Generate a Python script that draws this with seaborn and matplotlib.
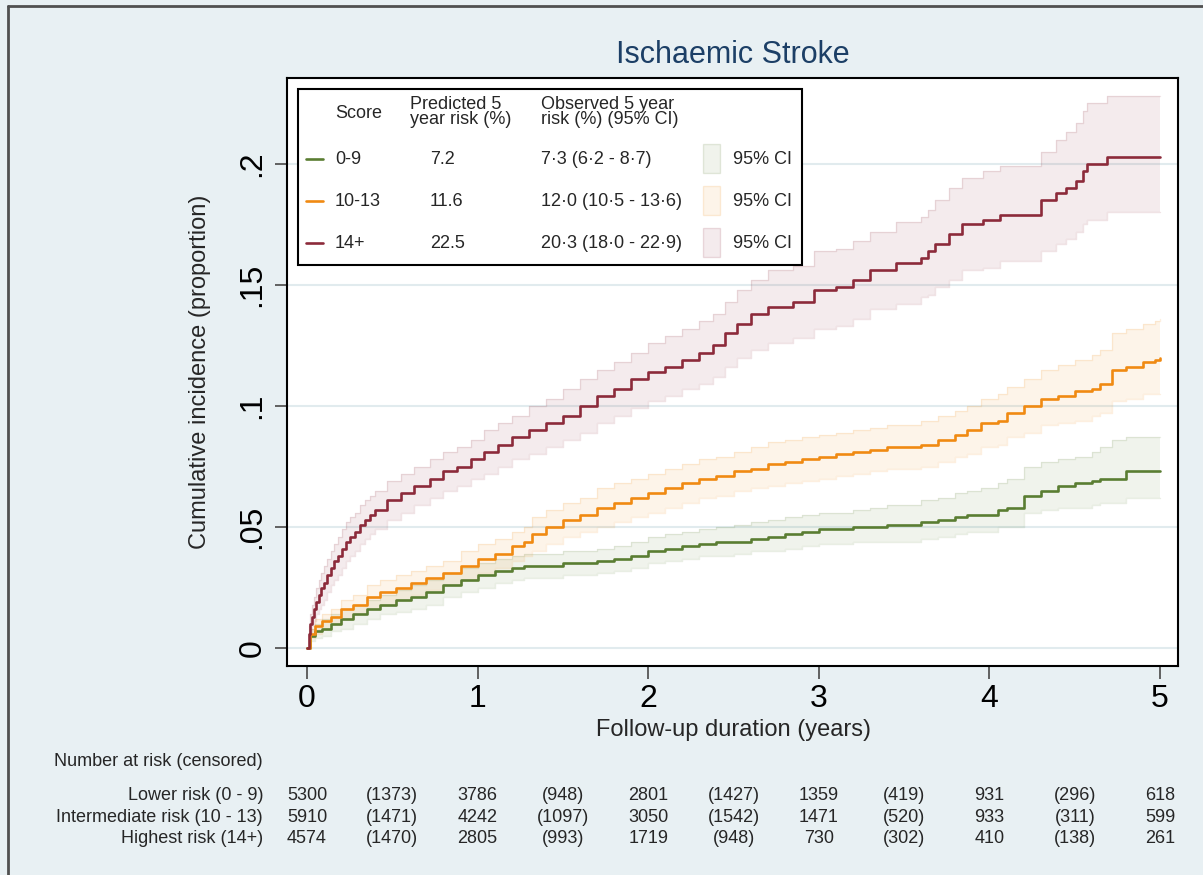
import numpy as np
import pandas as pd
import matplotlib
matplotlib.use("Agg")
import matplotlib.pyplot as plt
import matplotlib.transforms as mtransforms
from matplotlib.patches import Rectangle
from matplotlib.lines import Line2D
import seaborn as sns

# ---- data ----
groups = ["0-9", "10-13", "14+"]
predicted = ["7.2", "11.6", "22.5"]
observed = ["7·3 (6·2 - 8·7)", "12·0 (10·5 - 13·6)", "20·3 (18·0 - 22·9)"]

# low and intermediate groups share one time grid (years)
t_lowmid = [0, 0.02, 0.05, 0.09, 0.14, 0.20, 0.27, 0.35, 0.43, 0.52,
            0.61, 0.70, 0.80, 0.90, 1.00, 1.10, 1.20, 1.27, 1.32, 1.40,
            1.50, 1.60, 1.70, 1.80, 1.90, 2.00, 2.10, 2.20, 2.30, 2.40,
            2.50, 2.60, 2.70, 2.80, 2.90, 3.00, 3.10, 3.20, 3.30, 3.40,
            3.50, 3.60, 3.70, 3.80, 3.87, 3.95, 4.05, 4.10, 4.20, 4.30,
            4.40, 4.50, 4.60, 4.65, 4.72, 4.80, 4.90, 4.97, 5.00]

low_est = [0, .005, .007, .008, .010, .012, .014, .016, .018, .020,
           .021, .023, .026, .028, .030, .032, .033, .034, .034, .034,
           .035, .035, .036, .037, .038, .040, .041, .042, .043, .044,
           .044, .045, .046, .047, .048, .049, .049, .050, .050, .051,
           .051, .052, .053, .054, .055, .055, .057, .058, .063, .065,
           .067, .068, .069, .070, .070, .073, .073, .073, .073]
low_lo = [0, .003, .004, .005, .007, .008, .010, .012, .014, .015,
          .016, .018, .021, .023, .025, .027, .028, .029, .029, .029,
          .030, .030, .031, .032, .033, .035, .036, .037, .038, .038,
          .039, .040, .040, .041, .042, .043, .043, .044, .044, .044,
          .044, .045, .046, .047, .048, .048, .050, .050, .056, .057,
          .058, .058, .059, .060, .060, .062, .062, .062, .062]
low_hi = [0, .008, .010, .012, .014, .016, .018, .020, .022, .024,
          .026, .028, .031, .033, .035, .037, .038, .039, .039, .039,
          .040, .040, .041, .042, .044, .046, .047, .048, .049, .050,
          .051, .052, .053, .054, .055, .056, .056, .057, .058, .059,
          .059, .061, .062, .064, .065, .066, .068, .070, .075, .077,
          .078, .079, .081, .083, .086, .087, .087, .087, .087]

mid_est = [0, .006, .009, .011, .013, .016, .018, .021, .023, .025,
           .027, .029, .031, .034, .037, .039, .042, .044, .047, .050,
           .053, .055, .058, .060, .062, .064, .066, .068, .070, .071,
           .073, .074, .076, .077, .078, .079, .080, .081, .082, .083,
           .083, .084, .086, .088, .090, .093, .094, .097, .100, .103,
           .104, .106, .107, .109, .115, .116, .118, .119, .120]
mid_lo = [0, .004, .006, .008, .010, .012, .014, .016, .018, .020,
          .022, .024, .026, .028, .031, .033, .036, .038, .040, .043,
          .046, .048, .050, .052, .054, .056, .058, .060, .062, .063,
          .065, .066, .067, .068, .069, .070, .071, .072, .073, .074,
          .074, .075, .077, .079, .080, .083, .084, .087, .089, .092,
          .093, .094, .096, .097, .102, .103, .105, .105, .105]
mid_hi = [0, .008, .012, .014, .016, .020, .022, .026, .028, .030,
          .032, .034, .036, .040, .043, .045, .048, .050, .054, .057,
          .060, .062, .066, .068, .070, .072, .074, .076, .078, .079,
          .081, .083, .085, .086, .087, .088, .089, .090, .091, .092,
          .092, .094, .096, .098, .100, .103, .105, .108, .111, .115,
          .117, .119, .121, .123, .130, .132, .134, .135, .136]

t_high = [0, 0.01, 0.02, 0.03, 0.04, 0.055, 0.07, 0.085, 0.10, 0.12,
          0.14, 0.16, 0.18, 0.205, 0.23, 0.255, 0.28, 0.31, 0.34, 0.37,
          0.40, 0.47, 0.55, 0.63, 0.72, 0.80, 0.88, 0.96, 1.04, 1.12,
          1.20, 1.30, 1.40, 1.50, 1.60, 1.70, 1.80, 1.90, 2.00, 2.10,
          2.20, 2.30, 2.38, 2.45, 2.52, 2.60, 2.70, 2.85, 2.97, 3.10,
          3.20, 3.30, 3.45, 3.60, 3.64, 3.68, 3.76, 3.84, 3.96, 4.06,
          4.30, 4.39, 4.45, 4.51, 4.55, 4.57, 4.69, 5.00]
high_est = [0, .006, .010, .013, .016, .019, .022, .025, .027, .030,
            .033, .036, .038, .041, .044, .046, .048, .051, .053, .055,
            .057, .061, .064, .067, .070, .073, .075, .078, .081, .084,
            .087, .090, .093, .096, .100, .104, .107, .111, .114, .116,
            .119, .122, .125, .130, .134, .138, .141, .143, .148, .149,
            .152, .156, .159, .161, .164, .167, .171, .175, .177, .179,
            .185, .188, .190, .193, .197, .200, .203, .203]
high_lo = [0, .003, .006, .009, .011, .014, .016, .018, .020, .023,
           .026, .028, .030, .033, .036, .038, .040, .043, .045, .047,
           .049, .053, .056, .059, .062, .065, .067, .070, .072, .075,
           .078, .080, .083, .086, .089, .093, .096, .099, .102, .104,
           .107, .109, .112, .116, .120, .123, .126, .128, .132, .133,
           .136, .140, .142, .145, .146, .149, .152, .156, .157, .160,
           .164, .167, .169, .172, .175, .177, .180, .180]
high_hi = [0, .009, .014, .018, .021, .025, .028, .031, .034, .037,
           .040, .043, .046, .049, .052, .054, .056, .059, .061, .063,
           .065, .069, .072, .075, .078, .081, .083, .086, .090, .093,
           .096, .100, .103, .107, .111, .115, .118, .122, .126, .129,
           .132, .135, .138, .143, .148, .152, .156, .158, .164, .165,
           .168, .172, .176, .178, .181, .185, .190, .194, .197, .199,
           .205, .210, .213, .217, .222, .225, .228, .228]

# number at risk table
risk_times = [0, 1, 2, 3, 4, 5]
cens_times = [0.5, 1.5, 2.5, 3.5, 4.5]
risk_labels = ["Lower risk (0 - 9)", "Intermediate risk (10 - 13)", "Highest risk (14+)"]
at_risk_low = [5300, 3786, 2801, 1359, 931, 618]
at_risk_mid = [5910, 4242, 3050, 1471, 933, 599]
at_risk_high = [4574, 2805, 1719, 730, 410, 261]
cens_low = [1373, 948, 1427, 419, 296]
cens_mid = [1471, 1097, 1542, 520, 311]
cens_high = [1470, 993, 948, 302, 138]

colors = {"0-9": "#5a7d32", "10-13": "#f08a12", "14+": "#8c2a3a"}
bg = "#e8f0f3"

# ---- build frames ----
curves = pd.concat([
    pd.DataFrame({"time": t_lowmid, "est": low_est, "lo": low_lo, "hi": low_hi, "group": "0-9"}),
    pd.DataFrame({"time": t_lowmid, "est": mid_est, "lo": mid_lo, "hi": mid_hi, "group": "10-13"}),
    pd.DataFrame({"time": t_high, "est": high_est, "lo": high_lo, "hi": high_hi, "group": "14+"}),
], ignore_index=True)

sns.set_style("white")
plt.rcParams["font.family"] = ["Liberation Sans", "DejaVu Sans"]

W, H = 1203, 875
fig = plt.figure(figsize=(W / 100, H / 100), dpi=100, facecolor=bg)


def fx(px):
    return px / W


def fy(py):
    return 1 - py / H


ax = fig.add_axes([fx(287), fy(666), fx(1178) - fx(287), fy(78) - fy(666)])
ax.set_facecolor("white")

# confidence bands
for g in groups:
    d = curves[curves["group"] == g]
    ax.fill_between(d["time"], d["lo"], d["hi"], step="post",
                    facecolor=colors[g], alpha=0.09, lw=0, zorder=2)
    ax.step(d["time"], d["lo"], where="post", color=colors[g], alpha=0.13, lw=1, zorder=2)
    ax.step(d["time"], d["hi"], where="post", color=colors[g], alpha=0.13, lw=1, zorder=2)

sns.lineplot(data=curves, x="time", y="est", hue="group", palette=colors,
             estimator=None, drawstyle="steps-post", lw=1.9, legend=False,
             ax=ax, zorder=3)

ax.set_xlim(-0.117, 5.105)
ax.set_ylim(-0.0074, 0.2355)
ax.set_xticks([0, 1, 2, 3, 4, 5])
ax.set_xticklabels(["0", "1", "2", "3", "4", "5"])
ax.set_yticks([0, 0.05, 0.1, 0.15, 0.2])
ax.set_yticklabels(["0", ".05", ".1", ".15", ".2"], rotation=90, va="center")
ax.tick_params(axis="both", bottom=True, left=True, length=9, width=1.3,
               color="#555555", labelsize=23, labelcolor="black", pad=4)
ax.tick_params(axis="y", pad=5)
ax.set_xlabel("")
ax.set_ylabel("")
ax.yaxis.grid(True, color="#e1ebee", lw=1.5)
ax.xaxis.grid(False)
ax.set_axisbelow(True)
for s in ax.spines.values():
    s.set_visible(True)
    s.set_color("black")
    s.set_linewidth(1.5)

# titles
fig.text(fx(733), fy(55), "Ischaemic Stroke", ha="center", va="center",
         fontsize=22, color="#1c3f66")
fig.text(fx(733), fy(730), "Follow-up duration (years)", ha="center", va="center",
         fontsize=17)
fig.text(fx(200), fy(372), "Cumulative incidence (proportion)", ha="center",
         va="center", rotation=90, fontsize=17)

# outer frame
fig.add_artist(Line2D([fx(8), fx(8)], [0, fy(6)], color="#505050", lw=2,
                      transform=fig.transFigure))
fig.add_artist(Line2D([fx(8), 1], [fy(6), fy(6)], color="#505050", lw=2,
                      transform=fig.transFigure))

# legend box
fig.add_artist(Rectangle((fx(298), fy(265)), fx(802) - fx(298), fy(89) - fy(265),
                         transform=fig.transFigure, facecolor="white",
                         edgecolor="black", lw=1.5, zorder=5))
lfs = 13
fig.text(fx(335), fy(114), "Score", ha="left", va="center", fontsize=lfs, zorder=6)
fig.text(fx(410), fy(112), "Predicted 5\nyear risk (%)", ha="left", va="center",
         fontsize=lfs, linespacing=0.9, zorder=6)
fig.text(fx(541), fy(112), "Observed 5 year\nrisk (%) (95% CI)", ha="left",
         va="center", fontsize=lfs, linespacing=0.9, zorder=6)
row_y = [159, 201, 243]
for g, p, o, ry in zip(groups, predicted, observed, row_y):
    fig.add_artist(Line2D([fx(306), fx(323)], [fy(ry), fy(ry)], color=colors[g],
                          lw=1.9, transform=fig.transFigure, zorder=6))
    fig.text(fx(335), fy(ry), g, ha="left", va="center", fontsize=lfs, zorder=6)
    fig.text(fx(430), fy(ry), p, ha="left", va="center", fontsize=lfs, zorder=6)
    fig.text(fx(541), fy(ry), o, ha="left", va="center", fontsize=lfs, zorder=6)
    fig.add_artist(Rectangle((fx(703), fy(ry + 14)), fx(17), fy(0) - fy(29),
                             transform=fig.transFigure,
                             facecolor=matplotlib.colors.to_rgba(colors[g], 0.09),
                             edgecolor=matplotlib.colors.to_rgba(colors[g], 0.15),
                             lw=1, zorder=6))
    fig.text(fx(733), fy(ry), "95% CI", ha="left", va="center", fontsize=lfs, zorder=6)

# number at risk table (baseline-aligned so digits and brackets line up)
tfs = 13
fig.text(fx(54), fy(766), "Number at risk (censored)", ha="left", va="baseline",
         fontsize=tfs)
trans = mtransforms.blended_transform_factory(ax.transData, fig.transFigure)
table_y = [800, 822, 843]
at_risk = [at_risk_low, at_risk_mid, at_risk_high]
censored = [cens_low, cens_mid, cens_high]
for lab, n, c, ty in zip(risk_labels, at_risk, censored, table_y):
    fig.text(fx(263), fy(ty), lab, ha="right", va="baseline", fontsize=tfs)
    for t, v in zip(risk_times, n):
        fig.text(t, fy(ty), str(v), ha="center", va="baseline", fontsize=tfs,
                 transform=trans)
    for t, v in zip(cens_times, c):
        fig.text(t, fy(ty), f"({v})", ha="center", va="baseline", fontsize=tfs,
                 transform=trans)

fig.savefig("out.png", dpi=100, facecolor=bg)
